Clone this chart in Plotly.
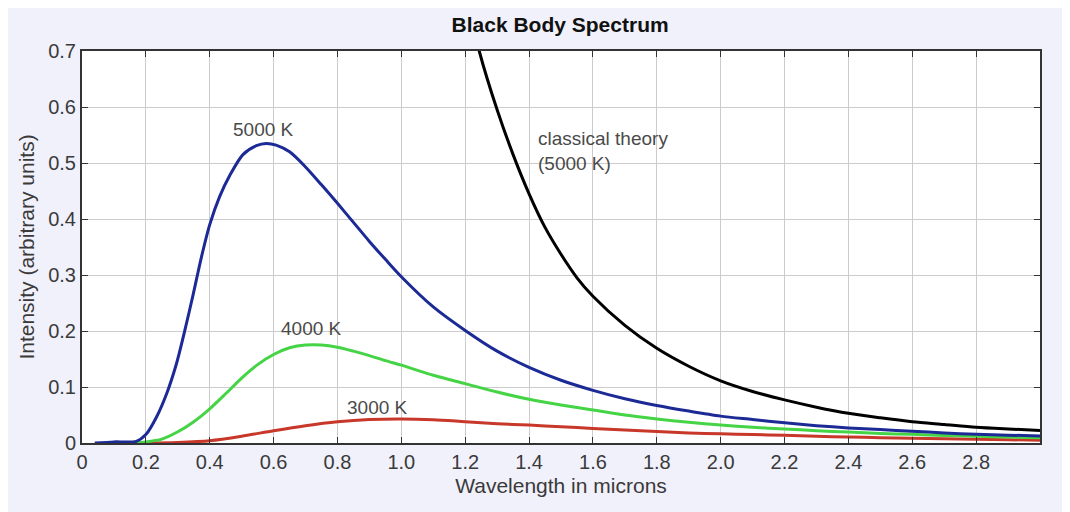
import plotly.graph_objects as go

# ---- data ----
x_5000 = [0.04, 0.10, 0.17, 0.20, 0.233, 0.265, 0.296, 0.322, 0.348, 0.374, 0.40, 0.431, 0.463,
          0.504, 0.546, 0.577, 0.608, 0.65, 0.70, 0.75, 0.80, 0.85, 0.90, 0.95, 1.00,
          1.10, 1.20, 1.30, 1.40, 1.50, 1.60, 1.70, 1.80, 1.90, 2.00, 2.10, 2.20, 2.30, 2.40,
          2.50, 2.60, 2.70, 2.80, 2.90, 3.00]
y_5000 = [0.0, 0.002, 0.003, 0.015, 0.046, 0.088, 0.142, 0.201, 0.265, 0.332, 0.390, 0.440, 0.478,
          0.515, 0.531, 0.535, 0.532, 0.52, 0.493, 0.461, 0.428, 0.394, 0.36, 0.328, 0.297,
          0.243, 0.201, 0.164, 0.135, 0.112, 0.094, 0.079, 0.067, 0.057, 0.048, 0.042, 0.036, 0.031, 0.027,
          0.024, 0.021, 0.018, 0.0155, 0.014, 0.0125]

x_4000 = [0.10, 0.15, 0.20, 0.25, 0.30, 0.35, 0.40, 0.45, 0.50, 0.55, 0.60, 0.65, 0.70, 0.75, 0.80,
          0.85, 0.90, 0.95, 1.00, 1.10, 1.20, 1.30, 1.40, 1.50, 1.60, 1.70, 1.80, 1.90, 2.00,
          2.10, 2.20, 2.30, 2.40, 2.50, 2.60, 2.70, 2.80, 2.90, 3.00]
y_4000 = [0.0, 0.0, 0.002, 0.007, 0.02, 0.038, 0.061, 0.088, 0.116, 0.14, 0.158, 0.17, 0.175, 0.175, 0.171,
          0.164, 0.156, 0.147, 0.139, 0.121, 0.106, 0.091, 0.078, 0.068, 0.059, 0.05, 0.043, 0.037, 0.032,
          0.028, 0.025, 0.022, 0.0195, 0.017, 0.0155, 0.0135, 0.012, 0.0105, 0.0095]

x_3000 = [0.10, 0.20, 0.30, 0.40, 0.50, 0.60, 0.70, 0.80, 0.90, 1.00, 1.10, 1.20, 1.30, 1.40, 1.50,
          1.60, 1.70, 1.80, 1.90, 2.00, 2.10, 2.20, 2.30, 2.40, 2.50, 2.60, 2.70, 2.80, 2.90, 3.00]
y_3000 = [0.0, 0.0, 0.001, 0.004, 0.012, 0.022, 0.031, 0.038, 0.042, 0.043, 0.0415, 0.038, 0.0345, 0.032, 0.029,
          0.026, 0.023, 0.0205, 0.018, 0.0163, 0.015, 0.0138, 0.012, 0.0107, 0.0095, 0.0085, 0.0075, 0.0065, 0.0058, 0.005]

x_classical = [1.22, 1.244, 1.30, 1.35, 1.40, 1.45, 1.50, 1.55, 1.60, 1.70, 1.80, 1.90, 2.00, 2.10, 2.20,
               2.30, 2.40, 2.50, 2.60, 2.70, 2.80, 2.90, 3.00]
y_classical = [0.76, 0.70, 0.595, 0.515, 0.445, 0.385, 0.337, 0.295, 0.262, 0.210, 0.169, 0.137, 0.111, 0.092, 0.077,
               0.064, 0.053, 0.045, 0.038, 0.033, 0.028, 0.025, 0.0225]

x_tickvals = [0, 0.2, 0.4, 0.6, 0.8, 1.0, 1.2, 1.4, 1.6, 1.8, 2.0, 2.2, 2.4, 2.6, 2.8]
x_ticktext = ["0", "0.2", "0.4", "0.6", "0.8", "1.0", "1.2", "1.4", "1.6", "1.8", "2.0", "2.2", "2.4", "2.6", "2.8"]
y_tickvals = [0, 0.1, 0.2, 0.3, 0.4, 0.5, 0.6, 0.7]
y_ticktext = ["0", "0.1", "0.2", "0.3", "0.4", "0.5", "0.6", "0.7"]

FONT = "Liberation Sans, Arial, sans-serif"

fig = go.Figure()
line_kw = dict(width=3, shape="spline", smoothing=0.8)
fig.add_trace(go.Scatter(x=x_3000, y=y_3000, mode="lines", line=dict(color="#c8382a", **line_kw), name="3000 K"))
fig.add_trace(go.Scatter(x=x_4000, y=y_4000, mode="lines", line=dict(color="#45d445", **line_kw), name="4000 K"))
fig.add_trace(go.Scatter(x=x_5000, y=y_5000, mode="lines", line=dict(color="#1c2a96", **line_kw), name="5000 K"))
fig.add_trace(go.Scatter(x=x_classical, y=y_classical, mode="lines", line=dict(color="#000000", **line_kw),
                         name="classical"))

axis_common = dict(showline=True, linecolor="#333333", linewidth=2, mirror="ticks", ticks="inside",
                   ticklen=6, tickcolor="#333333", showgrid=True, gridcolor="#cccccc", gridwidth=1,
                   zeroline=False, tickfont=dict(family=FONT, size=20, color="#3a3a3a"))

fig.update_xaxes(range=[0, 3.0], tickvals=x_tickvals, ticktext=x_ticktext,
                 title=dict(text="Wavelength in microns", font=dict(family=FONT, size=21, color="#3a3a3a"),
                            standoff=6), **axis_common)
fig.update_yaxes(range=[0, 0.7], tickvals=y_tickvals, ticktext=y_ticktext,
                 title=dict(text="Intensity (arbitrary units)", font=dict(family=FONT, size=21, color="#3a3a3a"),
                            standoff=8), **axis_common)

ann_font = dict(family=FONT, size=19, color="#4a4a4a")
fig.add_annotation(x=0.569, y=0.559, text="5000 K", showarrow=False, font=ann_font)
fig.add_annotation(x=0.719, y=0.205, text="4000 K", showarrow=False, font=ann_font)
fig.add_annotation(x=0.925, y=0.064, text="3000 K", showarrow=False, font=ann_font)
fig.add_annotation(x=1.422, y=0.522, text="classical theory<br>(5000 K)", showarrow=False, font=ann_font,
                   xanchor="left", align="left")

fig.update_layout(
    width=1070, height=512,
    margin=dict(l=74, r=38, t=43, b=77),
    paper_bgcolor="#f1f1fb", plot_bgcolor="#ffffff",
    showlegend=False,
    title=dict(text="<b>Black Body Spectrum</b>", x=0.516, xanchor="center", y=0.967, yanchor="middle",
               font=dict(family=FONT, size=21, color="#111111")),
)

fig.write_html("out.html")
